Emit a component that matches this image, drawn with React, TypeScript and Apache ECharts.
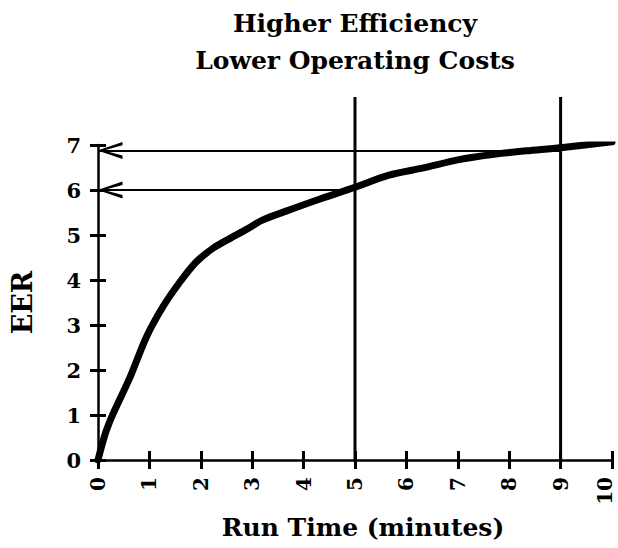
import React, { useEffect, useRef } from "react";
import * as echarts from "echarts";

// Curve: run time (minutes) vs EER
const runTime = [0, 0.14, 0.29, 0.62, 0.94, 1.26, 1.59, 1.91, 2.23, 2.56, 2.88, 3.2, 3.66, 4.32, 5.0, 5.66, 6.33, 7.0, 7.67, 8.33, 9.0, 10];
const eer = [0, 0.58, 1.02, 1.83, 2.73, 3.4, 3.95, 4.4, 4.7, 4.92, 5.12, 5.33, 5.53, 5.8, 6.06, 6.33, 6.49, 6.67, 6.79, 6.87, 6.94, 7.07];

// Reference marks: vertical guides at run times, arrows to EER values
const markerRuns = [5, 9];
const markerEER = [6.0, 6.88];
const guideTop = 8.07;

const titleLines = ["Higher Efficiency", "Lower Operating Costs"];
const xName = "Run Time (minutes)";
const yName = "EER";

const FONT = '"DejaVu Serif", serif';
const ARROW = "path://M0,24 L8,0 L16,24 L12.8,24 L8,6 L3.2,24 Z";

export default function App() {
  const ref = useRef<HTMLDivElement>(null);
  useEffect(() => {
    if (!ref.current) return;
    const chart = echarts.init(ref.current, null, { renderer: "svg" });
    const black = "#000";
    const tickStyle = { color: black, width: 3 };
    const labelFont = { color: black, fontFamily: FONT, fontWeight: "bold" as const, fontSize: 21 };
    const nameFont = { color: black, fontFamily: FONT, fontWeight: "bold" as const };
    chart.setOption({
      animation: false,
      backgroundColor: "#fff",
      title: {
        text: titleLines.join("\n"),
        left: 350,
        top: 0,
        textAlign: "center",
        textStyle: { color: black, fontFamily: FONT, fontWeight: "bold", fontSize: 25, lineHeight: 37 },
      },
      grid: [
        { left: 98, right: 6, top: 145, bottom: 88 },
        { left: 98, right: 6, top: 97, bottom: 88 },
      ],
      xAxis: [
        {
          gridIndex: 0, type: "value", min: 0, max: 10, interval: 1, position: "bottom",
          axisLine: { lineStyle: { color: black, width: 2.5 } },
          axisTick: { length: 9, lineStyle: tickStyle },
          splitLine: { show: false },
          axisLabel: {
            ...labelFont, fontSize: 20, rotate: 90, margin: 17,
            formatter: (v: number) => (v === 10 ? "{e|10}" : String(v)),
            rich: {
              e: { color: black, fontFamily: FONT, fontWeight: "bold", fontSize: 20, padding: [0, 0, 14, 0] },
            },
          },
          name: xName, nameLocation: "middle", nameGap: 55,
          nameTextStyle: { ...nameFont, fontSize: 25, padding: [0, 0, 0, 16] },
        },
        {
          gridIndex: 0, type: "value", min: 0, max: 10, interval: 1, position: "bottom",
          axisLine: { show: false },
          axisTick: { inside: true, length: 9, lineStyle: tickStyle },
          axisLabel: { show: false },
          splitLine: { show: false },
        },
        { gridIndex: 1, type: "value", min: 0, max: 10, show: false },
      ],
      yAxis: [
        {
          gridIndex: 0, type: "value", min: 0, max: 7, interval: 1, position: "left",
          axisLine: { show: true, lineStyle: { color: black, width: 2.5 } },
          axisTick: { show: true, length: 8, lineStyle: tickStyle },
          splitLine: { show: false },
          axisLabel: { ...labelFont, margin: 17 },
          name: yName, nameLocation: "middle", nameGap: 62,
          nameTextStyle: { ...nameFont, fontSize: 27 },
        },
        {
          gridIndex: 0, type: "value", min: 0, max: 7, interval: 1, position: "left",
          axisLine: { show: false },
          axisTick: { show: true, inside: true, length: 8, lineStyle: tickStyle },
          axisLabel: { show: false },
          splitLine: { show: false },
        },
        { gridIndex: 1, type: "value", min: 0, max: guideTop, show: false },
      ],
      series: [
        {
          type: "line", xAxisIndex: 0, yAxisIndex: 0,
          data: runTime.map((x, i) => [x, eer[i]]),
          smooth: 0.3, symbol: "none", silent: true,
          lineStyle: { color: black, width: 7, cap: "round", join: "round" },
          z: 3,
          markLine: {
            silent: true,
            symbol: ["none", ARROW],
            symbolSize: 24,
            symbolOffset: [[0, 0], [0, 12]],
            label: { show: false },
            emphasis: { disabled: true },
            lineStyle: { color: black, width: 2, type: "solid" },
            data: markerRuns.map((x, i) => [
              { coord: [x, markerEER[i]] },
              { coord: [0, markerEER[i]], symbolSize: [17, 25] },
            ]),
          },
        },
        ...markerRuns.map((x) => ({
          type: "line", xAxisIndex: 2, yAxisIndex: 2,
          data: [[x, 0], [x, guideTop]],
          symbol: "none", silent: true,
          lineStyle: { color: black, width: 3 },
          z: 2,
        })),
      ],
    });
    return () => chart.dispose();
  }, []);
  return (
    <div
      ref={ref}
      style={{ position: "fixed", left: 0, top: 0, width: 618, height: 548, background: "#fff" }}
    />
  );
}
